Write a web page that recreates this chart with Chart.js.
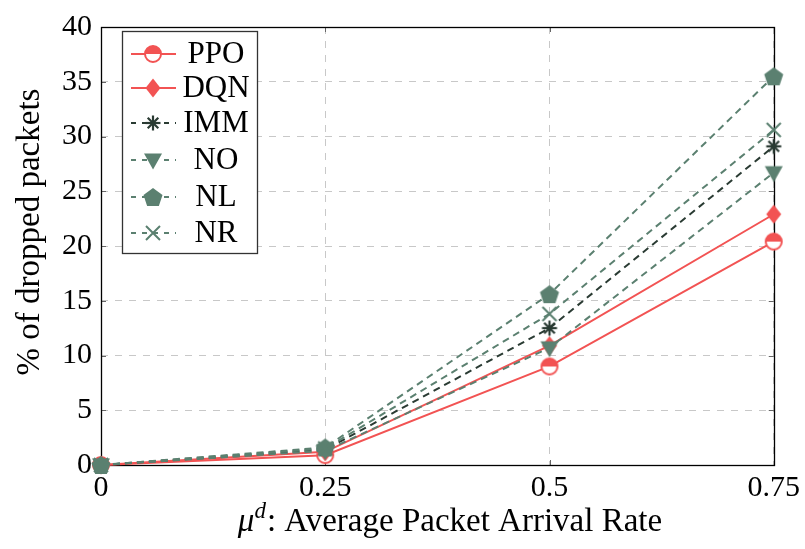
<!DOCTYPE html>
<html>
<head>
<meta charset="utf-8">
<script src="https://cdn.jsdelivr.net/npm/chart.js@4/dist/chart.umd.min.js"></script>
<style>
  html, body { margin: 0; padding: 0; background: #ffffff; }
  #wrap { width: 805px; height: 549px; position: relative; }
</style>
</head>
<body>
<div id="wrap"><canvas id="c" width="805" height="549"></canvas></div>
<script>
// Arrival rates on the x axis and their printed labels
const arrivalRates = [0, 0.25, 0.5, 0.75];
const xTickLabels = ['0', '0.25', '0.5', '0.75'];
const yTickValues = [0, 5, 10, 15, 20, 25, 30, 35, 40];

// Percentage of dropped packets per scheme
const ppoDrops = [0, 0.9, 9.0, 20.4];
const dqnDrops = [0, 1.2, 10.9, 22.9];
const immDrops = [0, 1.4, 12.5, 29.1];
const noDrops  = [0, 1.3, 10.7, 26.7];
const nlDrops  = [0, 1.6, 15.6, 35.5];
const nrDrops  = [0, 1.5, 13.8, 30.6];

const seriesNames = ['PPO', 'DQN', 'IMM', 'NO', 'NL', 'NR'];

const RED = '#f25353';
const GREEN = '#5b8070';
const DARK = '#2a3b33';
const FONT = '"Liberation Serif", "Times New Roman", serif';

// Marker glyphs rendered once to small canvases, used for both the plot and the legend
function makeMarker(kind, color) {
  const s = 26, c = document.createElement('canvas');
  c.width = s; c.height = s;
  const g = c.getContext('2d');
  const m = s / 2;
  g.lineJoin = 'miter';
  g.strokeStyle = color; g.fillStyle = color;
  if (kind === 'halfcircle') {
    const r = 8;
    g.beginPath(); g.arc(m, m, r, 0, Math.PI * 2); g.fillStyle = '#fff'; g.fill();
    g.beginPath(); g.arc(m, m, r, Math.PI, 0); g.closePath(); g.fillStyle = color; g.fill();
    g.lineWidth = 2;
    g.beginPath(); g.arc(m, m, r, 0, Math.PI * 2); g.stroke();
  } else if (kind === 'diamond') {
    g.beginPath(); g.moveTo(m, m - 9.5); g.lineTo(m + 7.5, m); g.lineTo(m, m + 9.5); g.lineTo(m - 7.5, m); g.closePath();
    g.fill();
  } else if (kind === 'asterisk') {
    g.lineWidth = 2.2; g.lineCap = 'butt';
    const r = 7.5;
    for (let i = 0; i < 4; i++) {
      const a = i * Math.PI / 4;
      g.beginPath(); g.moveTo(m - r * Math.cos(a), m - r * Math.sin(a)); g.lineTo(m + r * Math.cos(a), m + r * Math.sin(a)); g.stroke();
    }
  } else if (kind === 'tridown') {
    g.beginPath(); g.moveTo(m - 9, m - 6.5); g.lineTo(m + 9, m - 6.5); g.lineTo(m, m + 9.5); g.closePath(); g.fill();
  } else if (kind === 'pentagon') {
    const r = 10;
    g.beginPath();
    for (let i = 0; i < 5; i++) {
      const a = -Math.PI / 2 + i * 2 * Math.PI / 5;
      const x = m + r * Math.cos(a), y = m + 1 + r * Math.sin(a);
      if (i === 0) g.moveTo(x, y); else g.lineTo(x, y);
    }
    g.closePath(); g.fill();
  } else if (kind === 'cross') {
    g.lineWidth = 2;
    const r = 7;
    g.beginPath(); g.moveTo(m - r, m - r); g.lineTo(m + r, m + r); g.moveTo(m + r, m - r); g.lineTo(m - r, m + r); g.stroke();
  }
  return c;
}

const markers = {
  PPO: makeMarker('halfcircle', RED),
  DQN: makeMarker('diamond', RED),
  IMM: makeMarker('asterisk', DARK),
  NO: makeMarker('tridown', GREEN),
  NL: makeMarker('pentagon', GREEN),
  NR: makeMarker('cross', GREEN)
};

function pts(values) { return arrivalRates.map((x, i) => ({ x: x, y: values[i] })); }

const DASH = [7, 5];
function series(label, values, color, dashed, order) {
  return {
    label: label,
    data: pts(values),
    borderColor: color,
    backgroundColor: color,
    borderWidth: 2,
    borderDash: dashed ? DASH : [],
    pointStyle: markers[label],
    pointRadius: 9,
    pointHoverRadius: 9,
    tension: 0,
    clip: false,
    order: order
  };
}

const datasets = [
  series('PPO', ppoDrops, RED, false, 6),
  series('DQN', dqnDrops, RED, false, 5),
  series('IMM', immDrops, DARK, true, 4),
  series('NO', noDrops, GREEN, true, 3),
  series('NL', nlDrops, GREEN, true, 2),
  series('NR', nrDrops, GREEN, true, 1)
];

// Frame, inner tick marks, axis titles and the boxed legend
const decorations = {
  id: 'decorations',
  beforeDatasetsDraw(chart) {
    const { ctx, chartArea: a, scales } = chart;
    ctx.save();
    ctx.strokeStyle = '#666';
    ctx.lineWidth = 1;
    const tl = 5;
    yTickValues.forEach(v => {
      const y = Math.round(scales.y.getPixelForValue(v)) + 0.5;
      ctx.beginPath();
      ctx.moveTo(a.left, y); ctx.lineTo(a.left + tl, y);
      ctx.moveTo(a.right, y); ctx.lineTo(a.right - tl, y);
      ctx.stroke();
    });
    arrivalRates.forEach(v => {
      const x = Math.round(scales.x.getPixelForValue(v)) + 0.5;
      ctx.beginPath();
      ctx.moveTo(x, a.bottom); ctx.lineTo(x, a.bottom - tl);
      ctx.moveTo(x, a.top); ctx.lineTo(x, a.top + tl);
      ctx.stroke();
    });
    ctx.strokeStyle = '#000';
    ctx.lineWidth = 1.3;
    ctx.strokeRect(Math.round(a.left) + 0.5, Math.round(a.top) + 0.5, Math.round(a.right - a.left), Math.round(a.bottom - a.top));
    ctx.restore();
  },
  afterDraw(chart) {
    const { ctx } = chart;
    ctx.save();
    ctx.fillStyle = '#000';

    // y axis title
    ctx.save();
    ctx.translate(30, 232);
    ctx.rotate(-Math.PI / 2);
    ctx.font = '33px ' + FONT;
    ctx.textAlign = 'center';
    ctx.textBaseline = 'middle';
    ctx.fillText('% of dropped packets', 0, 0);
    ctx.restore();

    // x axis title with superscript
    ctx.textBaseline = 'alphabetic';
    ctx.textAlign = 'left';
    const mainFont = '33px ' + FONT;
    const supFont = '23px ' + FONT;
    const mu = 'μ', sup = 'd', rest = ': Average Packet Arrival Rate';
    ctx.font = 'italic ' + mainFont; const wMu = ctx.measureText(mu).width;
    ctx.font = 'italic ' + supFont; const wSup = ctx.measureText(sup).width;
    ctx.font = mainFont; const wRest = ctx.measureText(rest).width;
    const total = wMu + wSup + 1 + wRest;
    let x = 450 - total / 2;
    const base = 531;
    ctx.font = 'italic ' + mainFont; ctx.fillText(mu, x, base); x += wMu;
    ctx.font = 'italic ' + supFont; ctx.fillText(sup, x, base - 13); x += wSup + 1;
    ctx.font = mainFont; ctx.fillText(rest, x, base);

    // legend box
    const bx = 122, by = 31, bw = 135, bh = 222;
    ctx.fillStyle = '#fff';
    ctx.fillRect(bx, by, bw, bh);
    ctx.strokeStyle = '#333';
    ctx.lineWidth = 1.3;
    ctx.strokeRect(bx + 0.5, by + 0.5, bw, bh);

    const rowY = [54, 88, 123, 160, 197, 233];
    chart.data.datasets.forEach((ds, i) => {
      const y = rowY[i];
      ctx.strokeStyle = ds.borderColor;
      ctx.lineWidth = 2;
      ctx.setLineDash(ds.borderDash.length ? [5, 6] : []);
      ctx.beginPath();
      ctx.moveTo(131, y); ctx.lineTo(176, y);
      ctx.stroke();
      ctx.setLineDash([]);
      const img = markers[ds.label];
      ctx.drawImage(img, 153 - img.width / 2, y - img.height / 2);
      ctx.fillStyle = '#000';
      ctx.font = '31px ' + FONT;
      ctx.textAlign = 'center';
      ctx.textBaseline = 'middle';
      ctx.fillText(ds.label, 216, y + 1);
    });
    ctx.restore();
  }
};

new Chart(document.getElementById('c'), {
  type: 'line',
  data: { datasets: datasets },
  plugins: [decorations],
  options: {
    responsive: false,
    animation: false,
    events: [],
    layout: { padding: { top: 19, right: 30, left: 0, bottom: 0 } },
    plugins: { legend: { display: false }, tooltip: { enabled: false } },
    scales: {
      x: {
        type: 'linear',
        min: 0, max: 0.75,
        afterBuildTicks(scale) { scale.ticks = arrivalRates.map(v => ({ value: v })); },
        afterFit(scale) { scale.height = 84; },
        ticks: {
          color: '#000',
          font: { family: FONT, size: 30 },
          padding: 5,
          maxRotation: 0,
          callback(value) { const i = arrivalRates.indexOf(value); return i >= 0 ? xTickLabels[i] : ''; }
        },
        grid: { color: '#c8c8c8', lineWidth: 1, drawTicks: false },
        border: { display: false, dash: [7, 7] }
      },
      y: {
        min: 0, max: 40,
        afterBuildTicks(scale) { scale.ticks = yTickValues.map(v => ({ value: v })); },
        afterFit(scale) { scale.width = 101; },
        ticks: {
          color: '#000',
          font: { family: FONT, size: 30 },
          padding: 9
        },
        grid: { color: '#c8c8c8', lineWidth: 1, drawTicks: false },
        border: { display: false, dash: [7, 7] }
      }
    }
  }
});
</script>
</body>
</html>
